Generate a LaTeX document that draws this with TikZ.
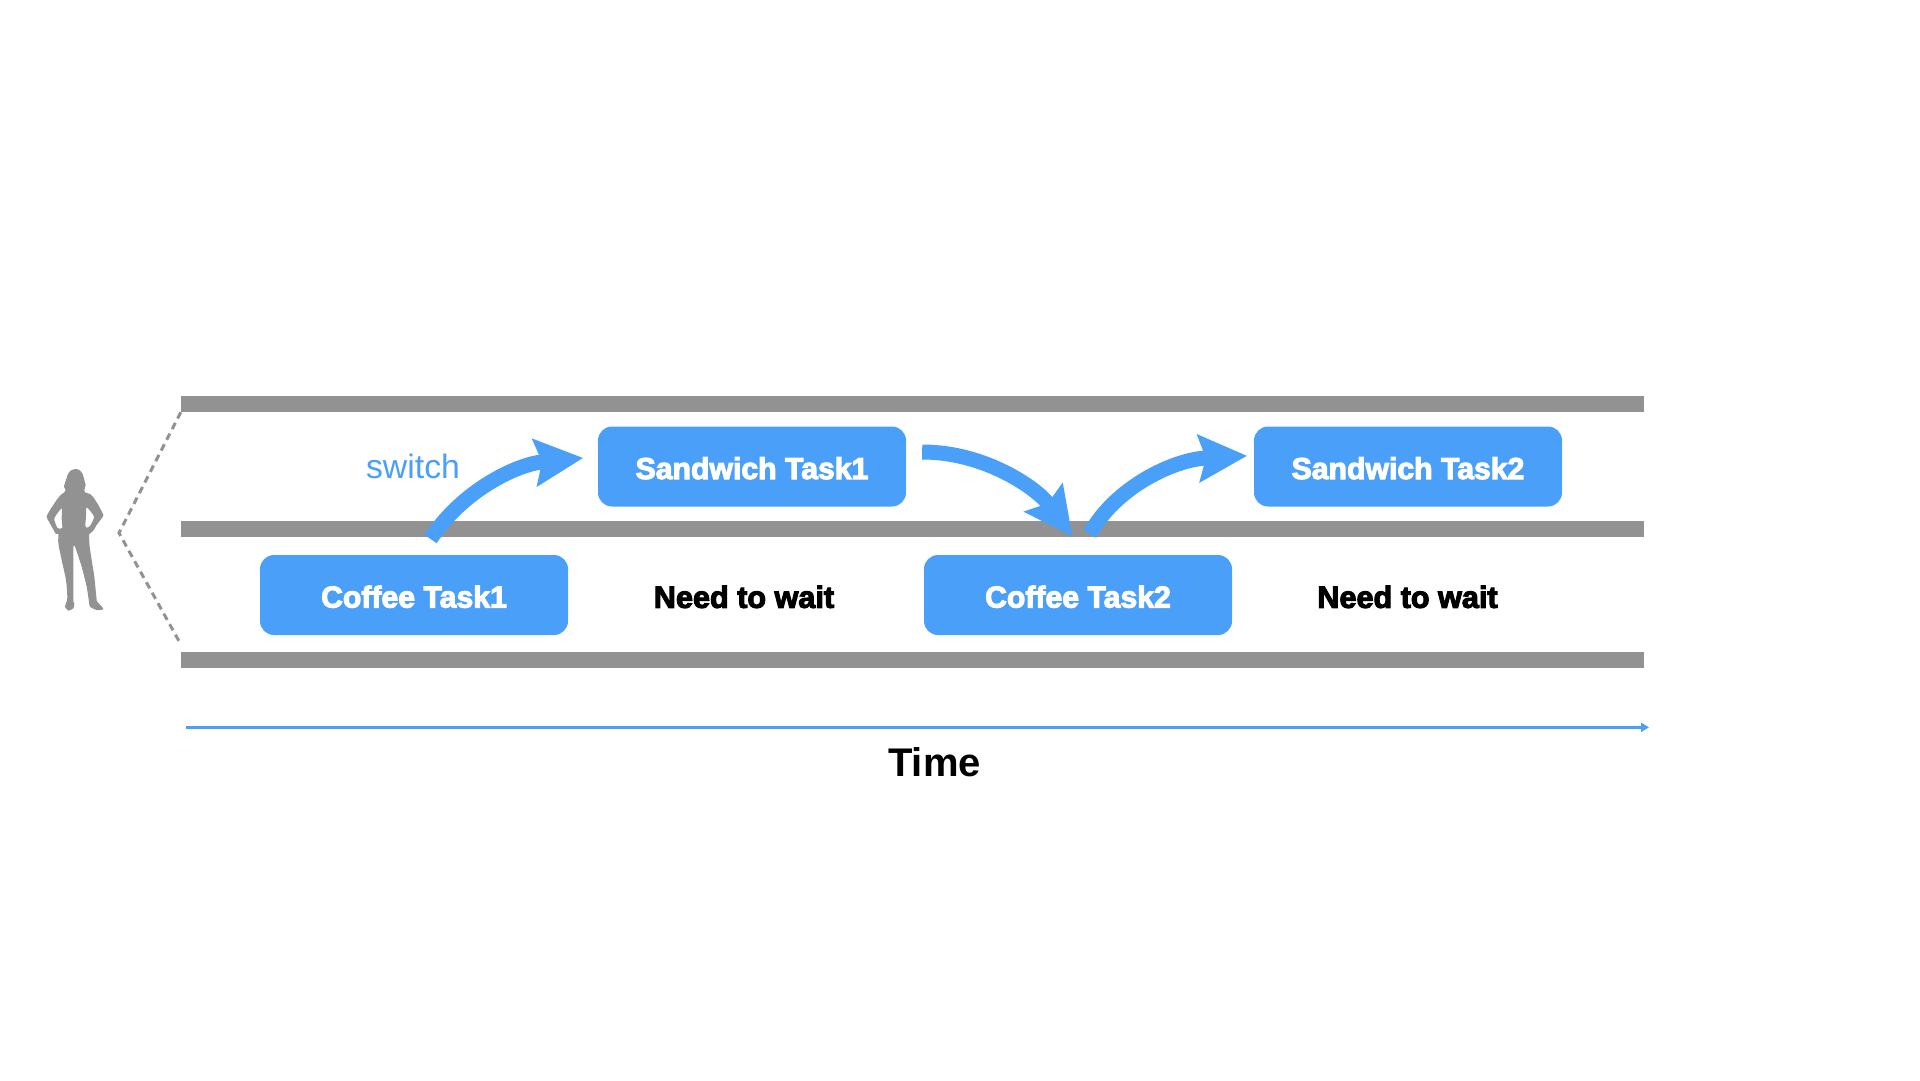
\documentclass[tikz,border=0pt]{standalone}
\usepackage{fontspec}
\usepackage{xcolor}
\setmainfont{Liberation Sans}
\newfontfamily\heavyfont[FakeBold=3.5]{Liberation Sans Bold}
\usetikzlibrary{arrows.meta}
\definecolor{taskblue}{HTML}{4A9FF9}
\definecolor{bargray}{HTML}{929292}
\tikzset{
    lanebar/.style={fill=bargray, minimum width=1463pt, minimum height=16pt, inner sep=0pt},
    taskbox/.style={fill=taskblue, text=white, rounded corners=14pt, minimum width=308pt, minimum height=80pt,
        inner sep=0pt, text height=25pt, text depth=0pt, font=\heavyfont\fontsize{30.2}{36}\selectfont},
    waitlabel/.style={anchor=base, inner sep=0pt, font=\heavyfont\fontsize{30.6}{36}\selectfont},
    switcharrow/.style={draw=taskblue, line width=15pt, -{Stealth[length=49pt,width=49pt,inset=8pt,line width=0pt]}},
}

\begin{document}
\begin{tikzpicture}[x=1pt,y=1pt]
    \useasboundingbox (0,0) rectangle (1920,-1080);
    % lanes
    \node[lanebar] (barTop) at (912.5,-404) {};
    \node[lanebar] (barMid) at (912.5,-529) {};
    \node[lanebar] (barBot) at (912.5,-659.5) {};
    % tasks
    \node[taskbox] (coffeeA) at (414,-595) {Coffee Task1};
    \node[taskbox] (sandA) at (752,-466.5) {Sandwich Task1};
    \node[taskbox] (coffeeB) at (1078,-595) {Coffee Task2};
    \node[taskbox] (sandB) at (1408,-466.5) {Sandwich Task2};
    \node[waitlabel] (waitA) at (744,-607.8) {Need to wait};
    \node[waitlabel] (waitB) at (1407.5,-607.8) {Need to wait};
    \node[anchor=base, inner sep=0pt, text=taskblue, font=\fontsize{33.8}{40}\selectfont] (switchlabel) at (413,-478) {switch};
    % switches
    \draw[switcharrow, shorten <=19pt, shorten >=15pt]
        ([xshift=6pt]coffeeA.north) to[out=56.5,in=185.6] ([yshift=10pt]sandA.west);
    \draw[switcharrow, shorten <=16pt, shorten >=23pt]
        ([yshift=14.5pt]sandA.east) to[out=0,in=126.6] ([xshift=8pt]coffeeB.north);
    \draw[switcharrow, shorten <=24pt, shorten >=7pt]
        (coffeeB.north) to[out=60.8,in=183] ([yshift=11pt]sandB.west);
    % person
    \begin{scope}[shift={(40,-460)},xscale=0.3333,yscale=-0.3333]
        \fill[bargray, even odd rule] plot[smooth cycle, tension=0.4] coordinates {
            (105,27) (118,30) (128,42) (133,60) (137,75) (133,90) (135,97) (150,102) (160,112) (175,135)
            (190,165) (185,175) (170,195) (160,212) (148,222) (147,225) (149,260) (155,300) (163,350)
            (170,420) (172,425) (190,447) (170,450) (150,440) (147,425) (140,380) (125,320) (105,260)
            (100,262) (100,330) (100,420) (103,430) (100,445) (85,452) (75,440) (80,425) (82,410)
            (78,360) (65,300) (55,250) (55,222) (48,222) (38,205) (27,185) (20,170) (30,150) (50,120)
            (62,105) (73,97) (77,90) (72,80) (78,60) (85,40) (95,30)}
            plot[smooth cycle, tension=0.4] coordinates {(65,145) (43,175) (52,203) (62,206) (67,203) (65,175)}
            plot[smooth cycle, tension=0.4] coordinates {(140,142) (162,170) (150,198) (140,203) (136,198) (138,170)};
    \end{scope}
    \coordinate (apex) at (119,-533);
    \draw[bargray, line width=3pt, dash pattern=on 7pt off 5pt]
        (barTop.south west) -- (apex) -- ([yshift=7pt]barBot.north west);
    % time axis
    \coordinate (timeStart) at (186,-727.3);
    \coordinate (timeEnd) at (1649,-727.3);
    \draw[taskblue, line width=2.4pt, -{Triangle[length=8pt,width=9pt]}] (timeStart) -- (timeEnd);
    \node[anchor=base, inner sep=0pt, font=\bfseries\fontsize{40}{48}\selectfont] (timelabel) at (934.5,-776) {Time};
\end{tikzpicture}
\end{document}
